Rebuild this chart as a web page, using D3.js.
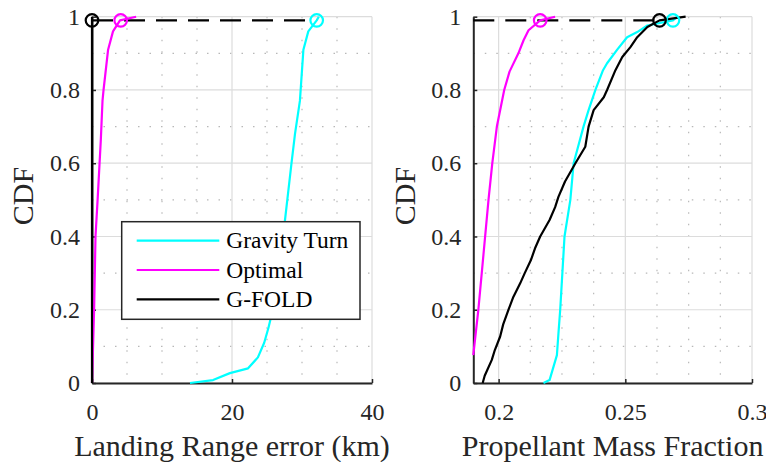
<!DOCTYPE html>
<html>
<head>
<meta charset="utf-8">
<script src="https://cdn.jsdelivr.net/npm/d3@7"></script>
<style>
  body { margin: 0; background: #fff; }
  svg { display: block; }
  svg text { font-family: 'Liberation Serif', 'Times New Roman', Tinos, 'DejaVu Serif', serif; }
</style>
</head>
<body>
<svg width="766" height="462"></svg>
<script>
// ---- data ----
var seriesNames = ["Gravity Turn", "Optimal", "G-FOLD"];
var seriesColors = ["#00ffff", "#ff00ff", "#000000"];
var cdfTicks = [0, 0.2, 0.4, 0.6, 0.8, 1];

// left panel: landing range error (km) vs CDF
var rangeTicks = [0, 20, 40];
var rangeGravity = [[14, 0], [17.3, 0.008], [19.7, 0.027], [22.3, 0.04], [23.7, 0.07], [24.6, 0.11],
  [25.2, 0.15], [25.7, 0.19], [26.6, 0.3], [27.3, 0.4], [27.9, 0.5], [28.5, 0.6], [29, 0.68],
  [29.7, 0.77], [30.2, 0.91], [30.9, 0.96], [32.1, 0.99], [32.4, 1]];
var rangeOptimal = [[0, 0], [0.3, 0.2], [0.5, 0.4], [0.8, 0.5], [1.25, 0.66], [1.5, 0.77],
  [1.65, 0.8], [2.3, 0.91], [3, 0.96], [4, 0.99], [6.3, 1]];
var rangeGfold = [[0, 0], [0, 1]];
var rangeMarks = [32.1, 4.1, 0];     // circle markers at CDF 0.99
var rangeDashEnd = 32.1;

// right panel: propellant mass fraction vs CDF
var pmfTicks = [0.2, 0.25, 0.3];
var pmfGravity = [[0.2177, 0], [0.2201, 0.008], [0.223, 0.076], [0.2236, 0.135], [0.2243, 0.2],
  [0.226, 0.4], [0.2283, 0.5], [0.2296, 0.6], [0.2335, 0.7], [0.2355, 0.745], [0.2382, 0.8],
  [0.2412, 0.854], [0.2428, 0.873], [0.2468, 0.91], [0.2507, 0.944], [0.2547, 0.958],
  [0.2587, 0.976], [0.2688, 0.99], [0.2705, 1]];
var pmfOptimal = [[0.19, 0.076], [0.192, 0.2], [0.194, 0.35], [0.196, 0.5], [0.1975, 0.6],
  [0.1993, 0.7], [0.2022, 0.8], [0.2043, 0.85], [0.2078, 0.9], [0.2098, 0.935],
  [0.2118, 0.963], [0.2164, 0.99], [0.2223, 1]];
var pmfGfold = [[0.1937, 0], [0.1945, 0.02], [0.1973, 0.063], [0.1985, 0.09], [0.2006, 0.127],
  [0.2018, 0.16], [0.2039, 0.2], [0.2058, 0.235], [0.2085, 0.272], [0.2103, 0.3], [0.2127, 0.335],
  [0.2145, 0.37], [0.2164, 0.4], [0.2201, 0.445], [0.2223, 0.48], [0.2236, 0.508],
  [0.2262, 0.55], [0.2303, 0.6], [0.2342, 0.645], [0.2355, 0.7], [0.2375, 0.745],
  [0.2415, 0.78], [0.2428, 0.8], [0.2461, 0.854], [0.2488, 0.89], [0.252, 0.917],
  [0.2547, 0.944], [0.2587, 0.972], [0.2635, 0.99], [0.2738, 1]];
var pmfMarks = [0.2688, 0.2164, 0.2635];
var pmfDashEnd = 0.2635;

var serif = "'Liberation Serif', 'Times New Roman', Tinos, 'DejaVu Serif', serif";
var svg = d3.select("svg");
var yTop = 16.7, yBottom = 383;
var y = d3.scaleLinear().domain([0, 1]).range([yBottom, yTop]);

function panel(left, right, xDomain, xTicks, minorStep, xFmt, curves, marks, dashEnd, xLabel, cdfX) {
  var x = d3.scaleLinear().domain(xDomain).range([left, right]);
  var g = svg.append("g");

  // minor grid (dotted)
  var xMinor = d3.range(Math.ceil(xDomain[0] / minorStep - 1e-9) * minorStep, xDomain[1] + 1e-9, minorStep)
    .filter(function(v) {
      return v > xDomain[0] + 1e-9 && xTicks.every(function(t) { return Math.abs(t - v) > 1e-9; });
    });
  var yMinor = [0.1, 0.3, 0.5, 0.7, 0.9];
  g.selectAll(".xm").data(xMinor).enter().append("line")
    .attr("x1", function(d) { return x(d); }).attr("x2", function(d) { return x(d); })
    .attr("y1", yTop).attr("y2", yBottom)
    .attr("stroke", "#b8b8b8").attr("stroke-width", 1.2).attr("stroke-dasharray", "1.5,10");
  g.selectAll(".ym").data(yMinor).enter().append("line")
    .attr("x1", left).attr("x2", right)
    .attr("y1", function(d) { return y(d); }).attr("y2", function(d) { return y(d); })
    .attr("stroke", "#b8b8b8").attr("stroke-width", 1.2).attr("stroke-dasharray", "1.5,10");

  // major grid
  g.selectAll(".xg").data(xTicks).enter().append("line")
    .attr("x1", function(d) { return x(d); }).attr("x2", function(d) { return x(d); })
    .attr("y1", yTop).attr("y2", yBottom)
    .attr("stroke", "#dcdcdc").attr("stroke-width", 1.2);
  g.selectAll(".yg").data(cdfTicks).enter().append("line")
    .attr("x1", left).attr("x2", right)
    .attr("y1", function(d) { return y(d); }).attr("y2", function(d) { return y(d); })
    .attr("stroke", "#dcdcdc").attr("stroke-width", 1.2);

  // axes
  var ax = g.append("g").attr("transform", "translate(0," + yBottom + ")")
    .call(d3.axisBottom(x).tickValues(xTicks).tickSize(-4).tickPadding(20).tickFormat(xFmt).tickSizeOuter(0));
  var ay = g.append("g").attr("transform", "translate(" + left + ",0)")
    .call(d3.axisLeft(y).tickValues(cdfTicks).tickSize(-4).tickPadding(12).tickFormat(d3.format("")).tickSizeOuter(0));
  [ax, ay].forEach(function(a) {
    a.attr("font-family", serif).attr("font-size", 24);
    a.select(".domain").attr("stroke", "#262626").attr("stroke-width", 2);
    a.selectAll(".tick line").attr("stroke", "#262626").attr("stroke-width", 1.5);
    a.selectAll("text").attr("fill", "#262626").attr("font-family", serif).attr("font-size", 24);
  });

  // curves
  var line = d3.line().x(function(d) { return x(d[0]); }).y(function(d) { return y(d[1]); });
  g.append("line")
    .attr("x1", left).attr("x2", x(dashEnd)).attr("y1", y(0.99)).attr("y2", y(0.99))
    .attr("stroke", "#000").attr("stroke-width", 2.2).attr("stroke-dasharray", "21,11");
  curves.forEach(function(c, i) {
    g.append("path").datum(c).attr("d", line)
      .attr("fill", "none").attr("stroke", seriesColors[i]).attr("stroke-width", 2.2)
      .attr("stroke-linejoin", "round");
  });
  marks.forEach(function(m, i) {
    g.append("circle").attr("cx", x(m)).attr("cy", y(0.99)).attr("r", 6.3)
      .attr("fill", "none").attr("stroke", seriesColors[i]).attr("stroke-width", 2.2);
  });

  // labels
  g.append("text").attr("x", (left + right) / 2).attr("y", 456)
    .attr("text-anchor", "middle").attr("fill", "#262626")
    .attr("font-family", serif).attr("font-size", 30).text(xLabel);
  g.append("text").attr("transform", "translate(" + cdfX + ",196) rotate(-90)")
    .attr("text-anchor", "middle").attr("fill", "#262626")
    .attr("font-family", serif).attr("font-size", 30).text("CDF");
  return g;
}

panel(92, 372, [0, 40], rangeTicks, 5, d3.format("d"),
  [rangeGravity, rangeOptimal, rangeGfold], rangeMarks, rangeDashEnd, "Landing Range error (km)", 33);
panel(473.3, 752, [0.19, 0.3], pmfTicks, 0.0125, function(d) { return String(d); },
  [pmfGravity, pmfOptimal, pmfGfold], pmfMarks, pmfDashEnd, "Propellant Mass Fraction", 415);

// legend
var lg = svg.append("g").attr("transform", "translate(121.7,221.7)");
lg.append("rect").attr("width", 238.3).attr("height", 97.6)
  .attr("fill", "#fff").attr("stroke", "#262626").attr("stroke-width", 1.5);
seriesNames.forEach(function(name, i) {
  var cy = 19 + i * 29.3;
  lg.append("line").attr("x1", 15).attr("x2", 97.6).attr("y1", cy).attr("y2", cy)
    .attr("stroke", seriesColors[i]).attr("stroke-width", 2.2);
  lg.append("text").attr("x", 104.5).attr("y", cy).attr("dy", "0.33em")
    .attr("fill", "#000").attr("font-family", serif).attr("font-size", 23.5).text(name);
});
</script>
</body>
</html>
